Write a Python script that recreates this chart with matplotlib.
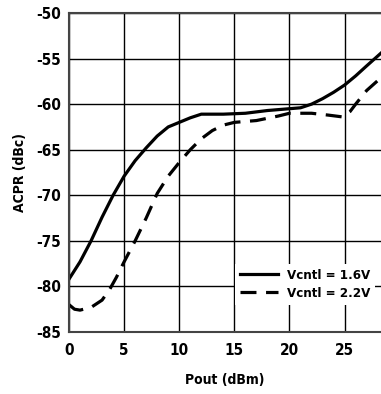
import matplotlib.pyplot as plt

# Vcntl = 1.6V
pout_a = [0, 1, 2, 3, 4, 5, 6, 7, 8, 9, 10, 11, 12, 14, 16, 18, 20, 21, 22, 23, 24, 25, 26, 27, 28.3]
acpr_a = [-79.2, -77.3, -75.0, -72.4, -70.0, -67.9, -66.2, -64.8, -63.5, -62.5, -62.0, -61.5, -61.1,
          -61.1, -61.0, -60.7, -60.5, -60.4, -60.0, -59.4, -58.7, -57.9, -56.9, -55.8, -54.4]

# Vcntl = 2.2V
pout_b = [0, 0.5, 1, 2, 3, 3.7, 4.3, 5, 6, 7, 8, 9, 10, 11, 12, 13, 14, 15, 17, 19, 20, 22,
          23.5, 24.8, 25.5, 26, 27, 28.3]
acpr_b = [-82.0, -82.5, -82.6, -82.3, -81.5, -80.3, -79.0, -77.3, -75.0, -72.5, -69.8, -67.9,
          -66.4, -65.0, -63.8, -62.9, -62.3, -62.0, -61.8, -61.3, -61.0, -61.0, -61.2, -61.4,
          -60.8, -60.0, -58.5, -57.1]

xticks = [0, 5, 10, 15, 20, 25]
yticks = [-85, -80, -75, -70, -65, -60, -55, -50]

plt.rcParams['font.family'] = ['DejaVu Sans']
plt.rcParams['font.stretch'] = 'condensed'
plt.rcParams['font.weight'] = 'bold'
plt.rcParams['axes.unicode_minus'] = False

fig = plt.figure(figsize=(3.81, 3.94), dpi=100)
ax = fig.add_axes([69 / 381, 62 / 394, 312 / 381, 319 / 394])

ax.plot(pout_a, acpr_a, color='black', lw=2.3, label='Vcntl = 1.6V')
ax.plot(pout_b, acpr_b, color='black', lw=2.3, dashes=(5, 3), label='Vcntl = 2.2V')

ax.set_xlim(0, 28.3)
ax.set_ylim(-85, -50)
ax.set_xticks(xticks)
ax.set_yticks(yticks)
ax.tick_params(axis='x', length=0, labelsize=11, pad=8)
ax.tick_params(axis='y', length=0, labelsize=11, pad=6)
ax.grid(True, color='black', lw=1.0)
for s in ax.spines.values():
    s.set_color('#444444')
    s.set_linewidth(1.5)
ax.spines['right'].set_visible(False)

ax.set_xlabel('Pout (dBm)', fontsize=10, fontweight='bold', labelpad=11)
ax.set_ylabel('ACPR (dBc)', fontsize=10, fontweight='bold', labelpad=6)

leg = ax.legend(loc='upper right', bbox_to_anchor=(375 / 381, 1 - 264 / 394),
                bbox_transform=fig.transFigure, borderaxespad=0,
                frameon=True, fancybox=False, edgecolor='white', framealpha=1,
                fontsize=9.5, handlelength=2.9, borderpad=0.35, labelspacing=0.4,
                handletextpad=0.7)
leg.get_frame().set_linewidth(0)

fig.savefig('out.png', dpi=100)
